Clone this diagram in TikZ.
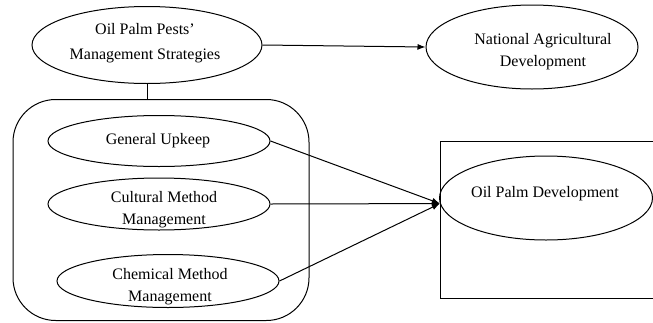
\documentclass[tikz,border=0pt]{standalone}
\usepackage{fontspec}
\setmainfont{Liberation Serif}
\usepackage{tikz}
\usetikzlibrary{shapes.geometric,arrows.meta}

\tikzset{
  oval/.style={draw, ellipse, line width=0.75, inner sep=0pt},
  txt/.style={align=center, inner sep=0.75pt, font=\fontsize{12}{16.5}\selectfont},
  arr/.style={line width=0.75, -{Latex[length=6pt,width=4.5pt]}}
}

\begin{document}
\begin{tikzpicture}[x=0.75pt,y=0.75pt,yscale=-1,xscale=1]
\path[use as bounding box] (0,0) rectangle (653,322);
\clip (0,0) rectangle (653,322);

%Shape: Ellipse [mgmt]
\node [oval, minimum width=172.5pt, minimum height=57.75pt] (mgmt) at (147,45) {};
%Shape: Ellipse [nat]
\node [oval, minimum width=159pt, minimum height=63pt] (nat) at (532,47) {};
%Shape: Rounded Rect [group]
\node [draw, line width=0.75, rectangle, rounded corners=32pt, minimum width=222pt, minimum height=165.75pt] (group) at (161,210) {};
%Shape: Ellipse [upkeep]
\node [oval, minimum width=166.5pt, minimum height=38.25pt] (upkeep) at (159,141) {};
%Shape: Ellipse [cultural]
\node [oval, minimum width=166.5pt, minimum height=39pt] (cultural) at (159,204) {};
%Shape: Ellipse [chemical]
\node [oval, minimum width=166.5pt, minimum height=39.75pt] (chemical) at (168,281) {};
%Shape: Rectangle [devbox]
\node [draw, line width=0.75, rectangle, minimum width=171pt, minimum height=117.75pt] (devbox) at (554,219.5) {};
%Shape: Ellipse [devel]
\node [oval, minimum width=159.75pt, minimum height=63pt] (devel) at (546,198) {};

%Straight Lines
\draw [line width=0.75] (mgmt.south) -- (mgmt.south |- group.north) ;
\draw [arr] (mgmt.east) -- (nat.west) ;
\draw [arr] (upkeep.east) -- (devel.183) ;
\draw [arr] (cultural.east) -- (devel.183) ;
\draw [arr] (chemical.east) -- (devel.183) ;

% Text Node
\node [txt, font=\fontsize{12}{18.5}\selectfont] (mgmttxt) at (145,43) {Oil Palm Pests’\\Management Strategies};
% Text Node
\node [txt] (nattxt) at (543,52) {National Agricultural\\Development};
% Text Node
\node [txt] (upkeeptxt) at (158,141) {General Upkeep};
% Text Node
\node [txt] (culturaltxt) at (164,210) {Cultural Method\\Management};
% Text Node
\node [txt] (chemicaltxt) at (170,287) {Chemical Method\\Management};
% Text Node
\node [txt] (develtxt) at (545,194) {Oil Palm Development};

\end{tikzpicture}
\end{document}
